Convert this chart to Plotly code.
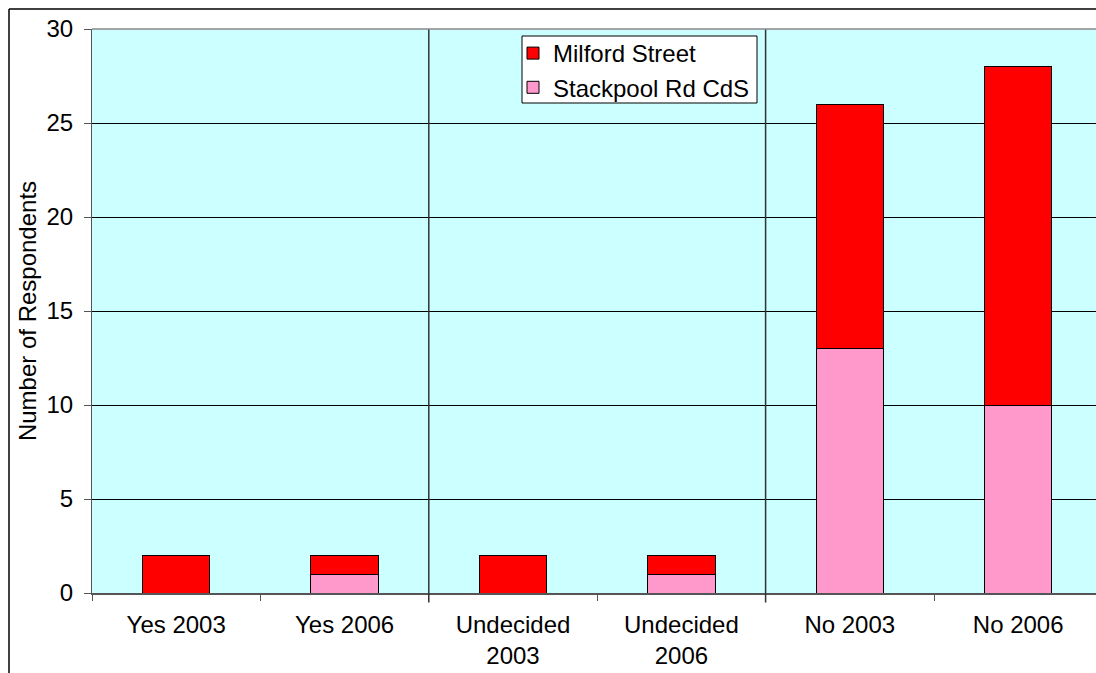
import plotly.graph_objects as go

categories = ["Yes 2003", "Yes 2006", "Undecided<br>2003", "Undecided<br>2006", "No 2003", "No 2006"]
stackpool = [0, 1, 0, 1, 13, 10]
milford = [2, 1, 2, 1, 13, 18]

W, H = 1096, 673
L, T = 92, 29
B = H - 593
plot_w = W - L
plot_h = H - T - B

def px_x(px):
    return (px - L) / plot_w

def px_y(py):
    return (H - B - py) / plot_h

fig = go.Figure()
fig.add_trace(go.Bar(x=categories, y=stackpool, name="Stackpool Rd CdS",
                     marker=dict(color="#FF99CC", line=dict(color="black", width=1)), width=0.4))
fig.add_trace(go.Bar(x=categories, y=milford, name="Milford Street",
                     marker=dict(color="#FF0000", line=dict(color="black", width=1)), width=0.4))

font = "Liberation Sans, Arial, sans-serif"
cat_px = 168.4
x_end = -0.5 + plot_w / cat_px
FS = 24

fig.update_layout(
    width=W, height=H,
    margin=dict(l=L, r=0, t=T, b=B, pad=0),
    barmode="stack",
    plot_bgcolor="#CCFFFF",
    paper_bgcolor="white",
    font=dict(family=font, size=FS, color="black"),
    showlegend=True,
    legend=dict(traceorder="reversed", x=px_x(513), y=px_y(31),
                xanchor="left", yanchor="top", bgcolor="rgba(0,0,0,0)",
                borderwidth=0, font=dict(size=FS)),
    xaxis=dict(range=[-0.5, x_end], tickson="boundaries", ticks="outside", ticklen=6,
               tickcolor="#555555", showline=True, linecolor="#555555", linewidth=2,
               showgrid=False, tickfont=dict(size=FS), ticklabelstandoff=9),
    yaxis=dict(range=[0, 30], dtick=5, ticks="outside", ticklen=7, tickcolor="#555555",
               showline=True, linecolor="#555555", linewidth=1, showgrid=True,
               gridcolor="black", gridwidth=1, zeroline=False,
               title=dict(text="Number of Respondents", font=dict(size=FS), standoff=3),
               tickfont=dict(size=FS), ticklabelstandoff=6),
)

shapes = []
for xv in [1.5, 3.5]:
    shapes.append(dict(type="line", xref="x", yref="paper", x0=xv, x1=xv, y0=-0.017, y1=1,
                       line=dict(color="#333333", width=1.5)))
shapes.append(dict(type="line", xref="paper", yref="paper", x0=0, x1=1.01, y0=1, y1=1,
                   line=dict(color="#888888", width=1.5)))
# legend box
shapes.append(dict(type="rect", xref="paper", yref="paper", layer="above",
                   x0=px_x(522), x1=px_x(757), y0=px_y(103), y1=px_y(36),
                   fillcolor="white", line=dict(color="black", width=1)))
bx = px_x(9)
by = px_y(9)
shapes.append(dict(type="line", xref="paper", yref="paper", x0=bx, x1=bx, y0=-1, y1=by,
                   line=dict(color="black", width=1.5)))
shapes.append(dict(type="line", xref="paper", yref="paper", x0=bx, x1=1.1, y0=by, y1=by,
                   line=dict(color="black", width=1.5)))
fig.update_layout(shapes=shapes)

fig.write_html("out.html", config={"displayModeBar": False},
               post_script="document.body.style.margin='0';document.body.style.overflow='hidden';")
